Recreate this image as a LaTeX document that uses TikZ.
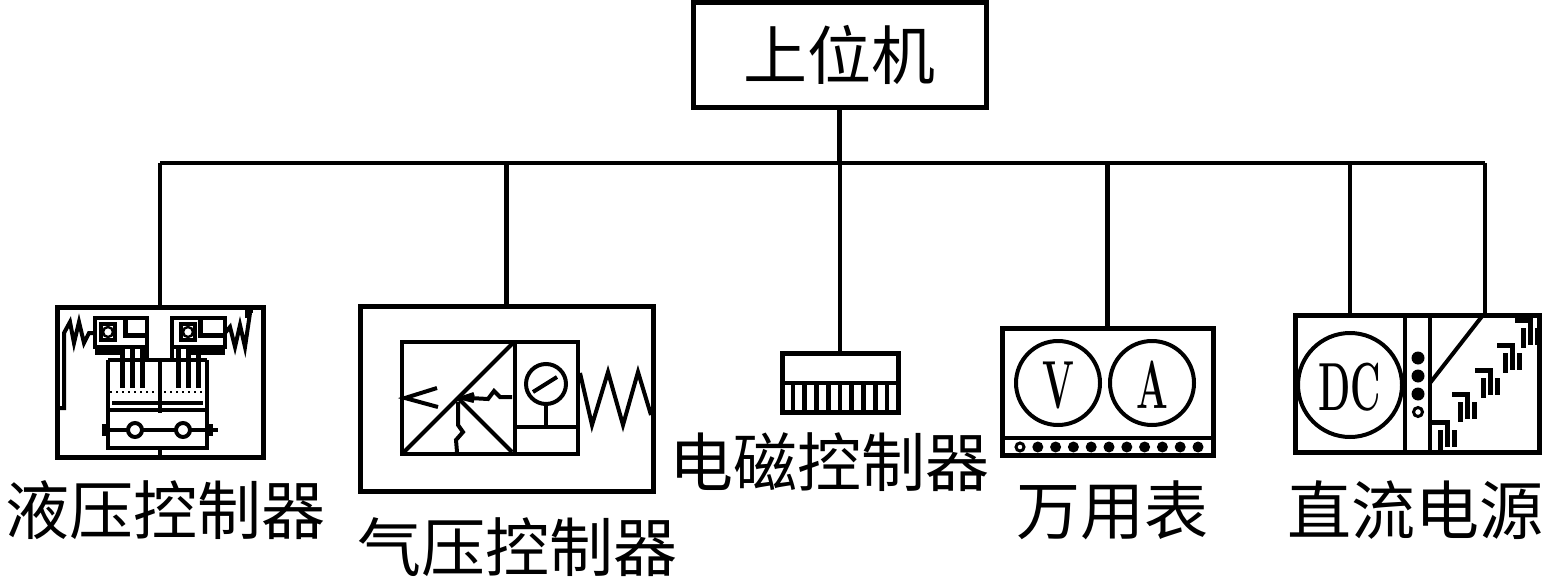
\documentclass[tikz,border=0pt]{standalone}
\usepackage{fontspec}
\newfontfamily\cjk{Noto Sans CJK SC}
\tikzset{
  box/.style={draw, line width=2.5pt, inner sep=0pt},
  lbl/.style={inner sep=0pt, font=\cjk\fontsize{32}{34}\selectfont},
  wire/.style={line width=2.3pt},
  part/.style={line width=2pt},
  letter/.style={inner sep=0pt, font=\bfseries\fontsize{34}{34}\selectfont, xscale=0.55},
}
\begin{document}
\begin{tikzpicture}[x=0.5pt,y=0.5pt,yscale=-1,xscale=1]
\useasboundingbox (0,0) rectangle (1545,578);

%Shape: Host box
\node (host) [box, lbl, minimum width=146.5pt, minimum height=52.5pt] at (839.5,54.5) {上位机};

%Shape: Device boxes
\node (hyd) [box, minimum width=103pt, minimum height=75pt] at (160,382) {};
\node (pneu) [box, minimum width=146.5pt, minimum height=92.5pt] at (506.5,398.5) {};
\node (em) [box, minimum width=58pt, minimum height=29.5pt] at (840,382.5) {};
\node (mm) [box, minimum width=105.5pt, minimum height=63.5pt] at (1107.5,391.5) {};
\node (dc) [box, minimum width=122pt, minimum height=68.5pt] at (1417,383.5) {};

%Straight Lines: bus
\coordinate (busL) at (160,163);
\coordinate (busR) at (1485,163);
\coordinate (dcA) at (1350,315);
\coordinate (dcB) at (1485,315);
\draw [wire] (busL) -- (busR);
\draw [wire] (host.south) -- (host.south |- busL);
\foreach \n in {hyd,pneu,em,mm} \draw [wire] (\n.north) -- (\n.north |- busL);
\draw [wire] (dcA) -- (dcA |- busL);
\draw [wire] (dcB) -- (dcB |- busL);

%Shape: hydraulic symbol
\draw [part] (95,318) rectangle (147,347);
\draw [part] (172,318) rectangle (225,347);
\draw [part] (101,324) rectangle (115,340);
\draw [part] (181,324) rectangle (195,340);
\draw [line width=1.2pt] (108,332) circle [radius=5];
\draw [line width=1.2pt] (188,332) circle [radius=5];
\draw [line width=2.5pt] (125,318) -- (125,335) -- (147,335);
\draw [line width=2.5pt] (200,318) -- (200,335) -- (225,335);
\draw [line width=3pt] (95,352) -- (125,352);
\draw [line width=3pt] (190,352) -- (225,352);
\draw [part] (108,360) -- (207,360);
\draw [part] (147,347) -- (147,360);
\draw [part] (172,347) -- (172,360);
\foreach \x in {122,132,142,178,188,198} \draw [line width=2.5pt] (\x,347) -- (\x,388);
\draw [part] (108,360) -- (108,448) -- (207,448) -- (207,360);
\draw [line width=1pt, dotted] (110,392) -- (205,392);
\draw [part] (112,403) -- (203,403);
\draw [part] (108,410) -- (207,410);
\draw [part] (160,362) -- (160,413);
\draw [part] (160,448) -- (160,457);
\draw [part] (102,430) -- (218,430);
\fill (102,424) rectangle (108,436);
\fill (207,424) rectangle (213,436);
\draw [part, fill=white] (135,430) circle [radius=7];
\draw [part, fill=white] (183,430) circle [radius=7];
\draw [part] (57,408) -- (64,408) -- (64,333) -- (70,322) -- (74,343) -- (79,322) -- (84,343) -- (89,333) -- (95,333);
\draw [part] (225,333) -- (230,327) -- (235,347) -- (240,325) -- (245,347) -- (250,313);
\draw [part] (247,318) -- (247,311) -- (253,311);

%Shape: pneumatic symbol
\draw [part] (402,342) rectangle (578,454);
\draw [part] (515,342) -- (515,454);
\draw [part] (515,427) -- (578,427);
\draw [part] (404,452) -- (513,343);
\draw [part] (458,398) -- (512,452);
\draw [part] (546,384) circle [radius=20];
\draw [part] (533,392) -- (557,377);
\draw [part] (546,404) -- (546,427);
\draw [part] (580,373) -- (592,425) -- (608,372) -- (623,425) -- (638,372) -- (651,415);
\draw [part] (437,388) -- (405,398) -- (438,407);
\draw [part] (512,397) -- (500,397) -- (494,391) -- (488,399) -- (470,398);
\draw [part] (474,394) -- (462,398) -- (474,401);
\draw [part] (458,402) -- (458,425) -- (463,432) -- (456,440) -- (457,452);

%Shape: electromagnetic symbol
\draw [part] (782,383) -- (898,383);
\foreach \i in {0,...,8} \draw [line width=2.3pt] ({793+\i*11.75},383) -- ({793+\i*11.75},412);

%Shape: multimeter symbol
\draw [part] (1002,438) -- (1213,438);
\draw [part] (1058,383) circle [radius=42];
\draw [part] (1152,383) circle [radius=42];
\node (vTxt) [letter] at (1058,385) {V};
\node (aTxt) [letter] at (1152,385) {A};
\draw [line width=1.5pt] (1020,447) circle [radius=4];
\foreach \i in {1,...,10} \fill ({1020+\i*17.8},447) circle [radius=5.5];

%Shape: DC supply symbol
\draw [part] (1405,315) -- (1405,452);
\draw [part] (1430,315) -- (1430,452);
\draw [part] (1350,385) circle [radius=52];
\node (dcTxt) [letter] at (1350,387) {DC};
\foreach \y in {358,376,394} \fill (1418,\y) circle [radius=6.5];
\draw [line width=1.5pt] (1418,412) circle [radius=4.5];
\draw [part] (1430,383) -- (1483,315);
\foreach \x/\y in {1432/422,1452/394,1475/370,1497/345,1515/320} {
  \draw [line width=2.5pt] (\x,\y) -- (\x+15,\y) -- (\x+15,\y+25);
  \draw [line width=2.5pt] (\x+8,\y+8) -- (\x+8,\y+28);
  \draw [line width=2.5pt] (\x+22,\y+8) -- (\x+22,\y+25);
}

% Text Node
\node (hydLbl) [lbl] at (165,510) {液压控制器};
% Text Node
\node (pneuLbl) [lbl] at (517,547) {气压控制器};
% Text Node
\node (emLbl) [lbl] at (829,462) {电磁控制器};
% Text Node
\node (mmLbl) [lbl] at (1112,510) {万用表};
% Text Node
\node (dcLbl) [lbl] at (1415,510) {直流电源};
\end{tikzpicture}
\end{document}
